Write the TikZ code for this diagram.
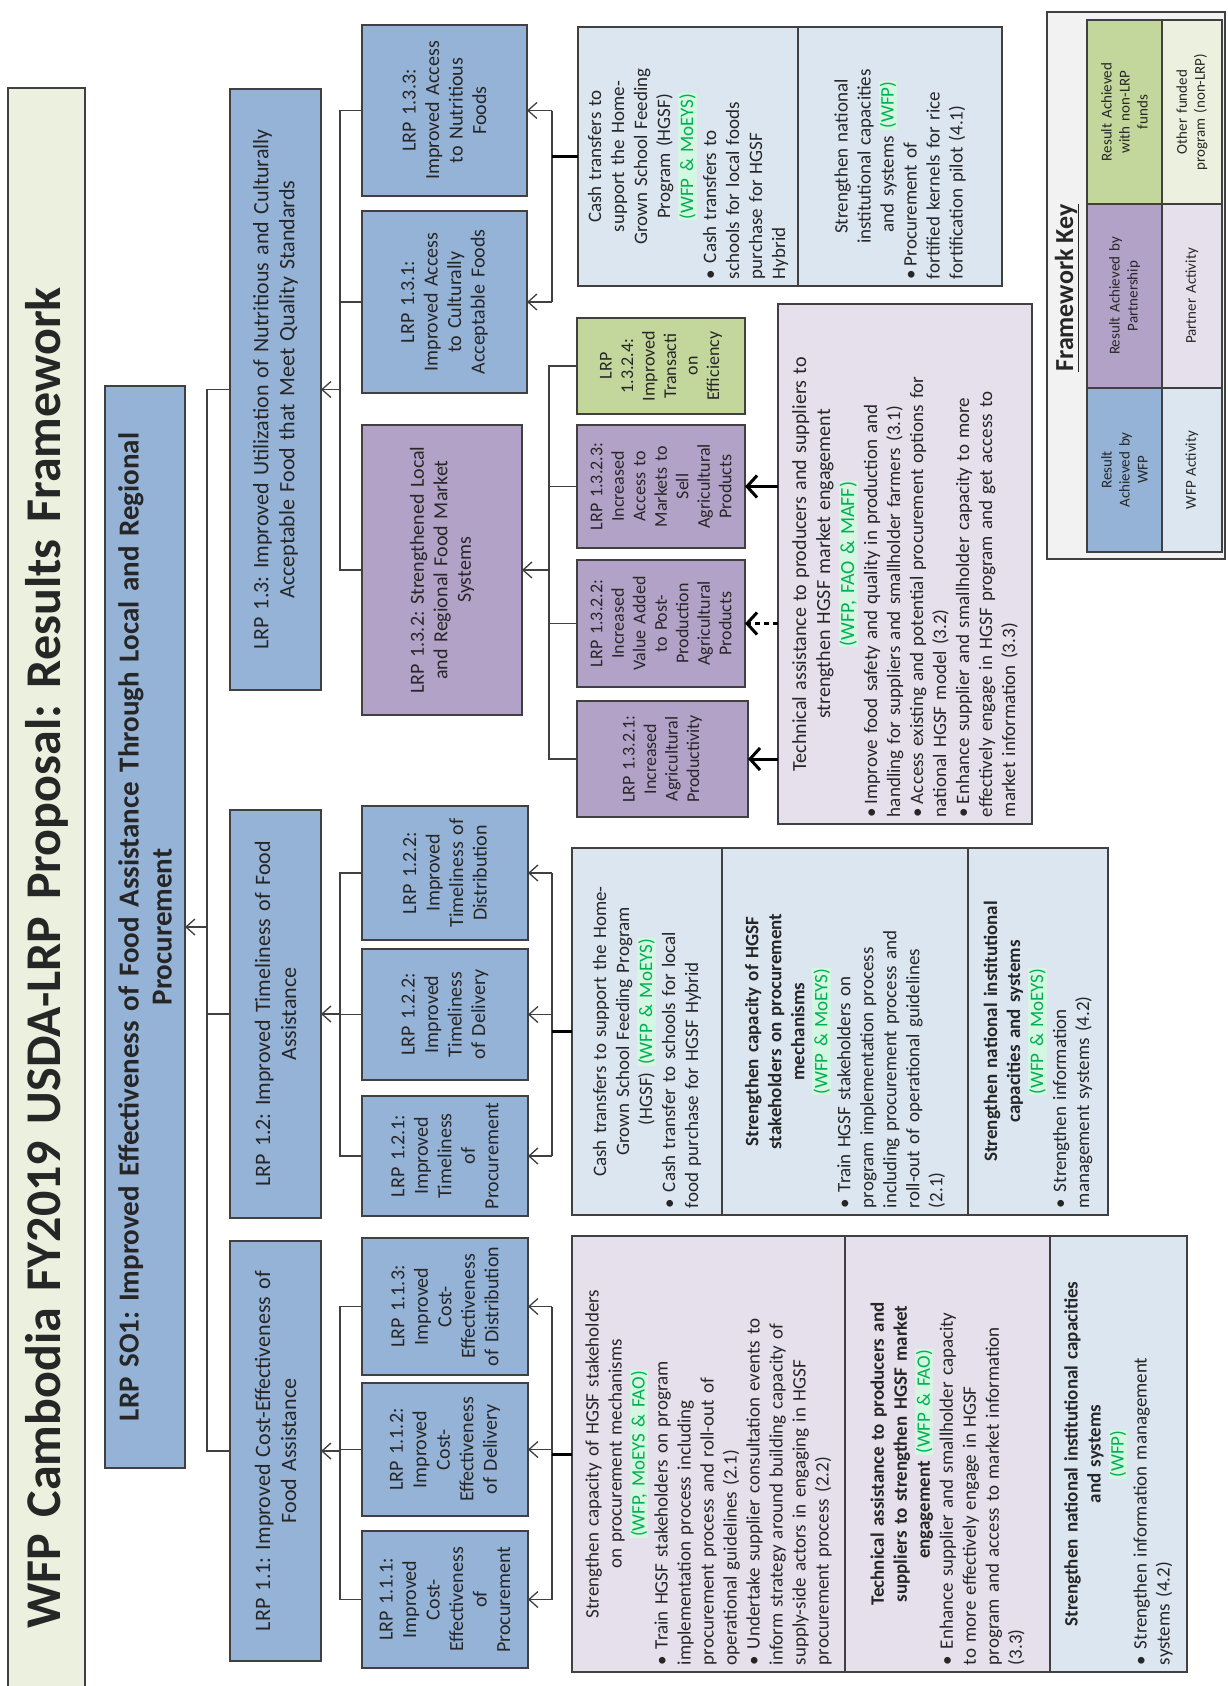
\documentclass[tikz,border=0pt]{standalone}
\usepackage{fontspec}
\setmainfont{Carlito}
\usetikzlibrary{arrows.meta}
\definecolor{resblue}{RGB}{149,179,215}
\definecolor{respurp}{RGB}{179,162,199}
\definecolor{resgreen}{RGB}{195,214,155}
\definecolor{actblue}{RGB}{220,230,241}
\definecolor{actpurp}{RGB}{229,224,236}
\definecolor{titlefill}{RGB}{235,241,222}
\definecolor{keyfill}{RGB}{242,242,242}
\definecolor{txtgreen}{RGB}{0,176,80}
\definecolor{hlgreen}{RGB}{214,246,228}
\definecolor{edgec}{RGB}{64,64,64}
\frenchspacing
\newcommand\grn[1]{{\setlength\fboxsep{1pt}\colorbox{hlgreen}{\color{txtgreen}#1}}}
\newcommand\bul[1]{\par\hangindent=16pt\hangafter=1\noindent\makebox[16pt][l]{\textbullet}#1\par}
\newcommand\sbul[1]{\par\hangindent=13pt\hangafter=1\noindent\makebox[13pt][l]{\textbullet}#1\par}
\newcommand\rbox[7]{%
  \pgfmathsetmacro\bw{#6-#5}\pgfmathsetmacro\bh{#4-#3}\pgfmathsetmacro\tw{\bw-14}%
  \node[#1, rotate=90, minimum width=\bw pt, minimum height=\bh pt, text width=\tw pt]
    (#2) at ({(#3+#4)/2},{(#5+#6)/2}) {#7};}
\tikzset{
  base/.style={draw=edgec, line width=1.4pt, inner xsep=7pt, inner ysep=3pt, outer sep=0pt, text=black!85},
  titlebox/.style={base, fill=titlefill, align=center, font=\fontsize{50}{58}\selectfont\bfseries},
  rb/.style={base, fill=resblue, align=center},
  rp/.style={base, fill=respurp, align=center},
  rg/.style={base, fill=resgreen, align=center},
  ab/.style={base, fill=actblue, align=left, font=\fontsize{19}{23}\selectfont},
  ap/.style={base, fill=actpurp, align=left, font=\fontsize{19}{23}\selectfont},
  fso/.style={font=\fontsize{29}{33}\selectfont\bfseries},
  ftwo/.style={font=\fontsize{22}{26}\selectfont},
  fthree/.style={font=\fontsize{20}{23.5}\selectfont},
  ffour/.style={font=\fontsize{18}{21.5}\selectfont},
  keybox/.style={base, fill=keyfill},
  kcell/.style={base, line width=1.2pt, align=center, font=\fontsize{15}{18}\selectfont},
  ln/.style={draw=edgec, line width=1.3pt},
  arr/.style={draw=edgec, line width=1.3pt, -{Straight Barb[length=9pt,width=16pt]}},
  thk/.style={draw=black, line width=3pt},
  tarr/.style={draw=black, line width=3pt, -{Straight Barb[length=10pt,width=22pt]}},
}
\begin{document}
\begin{tikzpicture}[x=1pt,y=-1pt]
\clip (0,0) rectangle (1228,1686);
\fill[white] (-5,-5) rectangle (1233,1691);

% title and goal
\rbox{titlebox}{title}{8}{85}{88}{1828}{WFP Cambodia FY2019 USDA-LRP Proposal: Results Framework}
\rbox{rb,fso}{so1}{105}{185}{386}{1468}{LRP SO1: Improved Effectiveness of Food Assistance Through Local and Regional\\ Procurement}

% level 2
\rbox{rb,ftwo}{n13}{230}{321}{89}{690}{LRP 1.3: Improved Utilization of Nutritious and Culturally\\ Acceptable Food that Meet Quality Standards}
\rbox{rb,ftwo}{n12}{230}{321}{810}{1218}{LRP 1.2: Improved Timeliness of Food\\ Assistance}
\rbox{rb,ftwo}{n11}{230}{321}{1241}{1661}{LRP 1.1: Improved Cost-Effectiveness of\\ Food Assistance}

% level 3
\rbox{rb,fthree}{n133}{362}{527}{25}{196}{LRP 1.3.3:\\ Improved Access\\ to Nutritious\\ Foods}
\rbox{rb,fthree}{n131}{362}{527}{211}{393}{LRP 1.3.1:\\ Improved Access\\ to Culturally\\ Acceptable Foods}
\rbox{rp,fthree}{n132}{362}{522}{425}{715}{LRP 1.3.2: Strengthened Local\\ and Regional Food Market\\ Systems}
\rbox{rb,fthree}{n122a}{362}{528}{806}{940}{LRP 1.2.2:\\ Improved\\ Timeliness of\\ Distribution}
\rbox{rb,fthree}{n122b}{362}{528}{949}{1080}{LRP 1.2.2:\\ Improved\\ Timeliness\\ of Delivery}
\rbox{rb,fthree}{n121}{362}{528}{1096}{1216}{LRP 1.2.1:\\ Improved\\ Timeliness of\\ Procurement}
\rbox{rb,fthree}{n113}{362}{528}{1238}{1375}{LRP 1.1.3:\\ Improved\\ Cost-\\ Effectiveness\\ of Distribution}
\rbox{rb,fthree}{n112}{362}{528}{1383}{1516}{LRP 1.1.2:\\ Improved\\ Cost-\\ Effectiveness\\ of Delivery}
\rbox{rb,fthree}{n111}{362}{528}{1531}{1668}{LRP 1.1.1:\\ Improved\\ Cost-\\ Effectiveness\\ of\\ Procurement}

% level 4
\rbox{rg,ffour}{n1324}{577}{745}{318}{414}{LRP\\ 1.3.2.4:\\ Improved\\ Transacti\\ on\\ Efficiency}
\rbox{rp,ffour}{n1323}{577}{745}{425}{548}{LRP 1.3.2.3:\\ Increased\\ Access to\\ Markets to\\ Sell\\ Agricultural\\ Products}
\rbox{rp,ffour}{n1322}{577}{745}{560}{687}{LRP 1.3.2.2:\\ Increased\\ Value Added\\ to Post-\\ Production\\ Agricultural\\ Products}
\rbox{rp,ffour}{n1321}{577}{748}{701}{817}{LRP 1.3.2.1:\\ Increased\\ Agricultural\\ Productivity}

% activities top
\rbox{ab}{cashA}{578}{798}{27}{286}{{\centering Cash transfers to\\ support the Home-\\ Grown School Feeding\\ Program (HGSF)\\ \grn{(WFP \& MoEYS)}\par}\bul{Cash transfers to\\ schools for local foods\\ purchase for HGSF\\ Hybrid}}
\rbox{ab}{cashB}{798}{1002}{27}{286}{{\centering Strengthen national\\ institutional capacities\\ and systems \grn{(WFP)}\par}\sbul{Procurement of\\ fortified kernels for rice\\ fortification pilot (4.1)}}
\rbox{ap}{tech}{778}{1032}{304}{824}{{\centering\fontsize{20}{24}\selectfont Technical assistance to producers and suppliers to\\ strengthen HGSF market engagement\\ \grn{(WFP, FAO \& MAFF)}\par}\sbul{Improve food safety and quality in production and\\ handling for suppliers and smallholder farmers (3.1)}\sbul{Access existing and potential procurement options for\\ national HGSF model (3.2)}\sbul{Enhance supplier and smallholder capacity to more\\ effectively engage in HGSF program and get access to\\ market information (3.3)}}

% activities middle
\rbox{ab}{midA}{572}{722}{848}{1215}{{\centering Cash transfers to support the Home-\\ Grown School Feeding Program\\ (HGSF) \grn{(WFP \& MoEYS)}\par}\bul{Cash transfer to schools for local\\ food purchase for HGSF Hybrid}}
\rbox{ab}{midB}{722}{968}{848}{1215}{{\centering\bfseries Strengthen capacity of HGSF\\ stakeholders on procurement\\ mechanisms\\ \mdseries\grn{(WFP \& MoEYS)}\par}\bul{Train HGSF stakeholders on\\ program implementation process\\ including procurement process and\\ roll-out of operational guidelines\\ (2.1)}}
\rbox{ab}{midC}{968}{1108}{848}{1215}{{\centering\bfseries Strengthen national institutional\\ capacities and systems\\ \mdseries\grn{(WFP \& MoEYS)}\par}\bul{Strengthen information\\ management systems (4.2)}}

% activities bottom
\rbox{ap}{botA}{572}{845}{1236}{1672}{{\centering Strengthen capacity of HGSF stakeholders\\ on procurement mechanisms\\ \grn{(WFP, MoEYS \& FAO)}\par}\bul{Train HGSF stakeholders on program\\ implementation process including\\ procurement process and roll-out of\\ operational guidelines (2.1)}\bul{Undertake supplier consultation events to\\ inform strategy around building capacity of\\ supply-side actors in engaging in HGSF\\ procurement process (2.2)}}
\rbox{ap}{botB}{845}{1050}{1236}{1672}{{\centering\bfseries Technical assistance to producers and\\ suppliers to strengthen HGSF market\\ engagement \mdseries\grn{(WFP \& FAO)}\par}\bul{Enhance supplier and smallholder capacity\\ to more effectively engage in HGSF\\ program and access to market information\\ (3.3)}}
\rbox{ab}{botC}{1050}{1187}{1236}{1672}{{\centering\bfseries Strengthen national institutional capacities\\ and systems\\ \mdseries\grn{(WFP)}\par}\bul{Strengthen information management\\ systems (4.2)}}

% framework key
\rbox{keybox}{key}{1047}{1225}{12}{559}{}
\node[rotate=90, font=\fontsize{26}{30}\selectfont\bfseries, text=black!85] (keyt) at (1067,288) {\underline{Framework Key}};
\rbox{kcell,fill=resblue}{kc1}{1087}{1162}{388}{552}{Result\\ Achieved by\\ WFP}
\rbox{kcell,fill=respurp}{kc2}{1087}{1162}{204}{388}{Result Achieved by\\ Partnership}
\rbox{kcell,fill=resgreen}{kc3}{1087}{1162}{20}{204}{Result Achieved\\ with non-LRP\\ funds}
\rbox{kcell,fill=actblue}{kc4}{1162}{1222}{388}{552}{WFP Activity}
\rbox{kcell,fill=actpurp}{kc5}{1162}{1222}{204}{388}{Partner Activity}
\rbox{kcell,fill=titlefill}{kc6}{1162}{1222}{20}{204}{Other funded\\ program (non-LRP)}

% level 2 -> SO1
\coordinate (b0) at (207,927);
\draw[ln] (n13.north) -- (n13.north -| b0) -- (n11.north -| b0) -- (n11.north);
\draw[ln] (n12.north) -- (n12.north -| b0);
\draw[arr] (b0) -- (so1.south);

% level 3 -> level 2
\coordinate (b13) at (340,390);
\draw[ln] (n133.north) -- (n133.north -| b13) -- (n132.north -| b13) -- (n132.north);
\draw[ln] (n131.north) -- (n131.north -| b13);
\draw[arr] (b13 |- n13.south) -- (n13.south);
\draw[ln] (n122a.north) -- (n122a.north -| b13) -- (n121.north -| b13) -- (n121.north);
\draw[ln] (n122b.north) -- (n122b.north -| b13);
\draw[arr] (b13 |- n12.south) -- (n12.south);
\draw[ln] (n113.north) -- (n113.north -| b13) -- (n111.north -| b13) -- (n111.north);
\draw[ln] (n112.north) -- (n112.north -| b13);
\draw[arr] (b13 |- n11.south) -- (n11.south);

% level 4 -> LRP 1.3.2
\coordinate (b132) at (549,570);
\draw[ln] (n1324.north) -- (n1324.north -| b132) -- (n1321.north -| b132) -- (n1321.north);
\draw[ln] (n1323.north) -- (n1323.north -| b132);
\draw[ln] (n1322.north) -- (n1322.north -| b132);
\draw[arr] (b132 |- n132.south) -- (n132.south);

% activities -> results
\coordinate (c1) at (552,0);
\draw[ln] (c1 |- n133.center) -- (c1 |- n131.center);
\draw[arr] (c1 |- n133.center) -- (n133.south);
\draw[arr] (c1 |- n131.center) -- (n131.south);
\draw[thk] (cashA.north) -- (cashA.north -| c1);

\draw[ln] (c1 |- n122a.center) -- (c1 |- n121.center);
\draw[arr] (c1 |- n122a.center) -- (n122a.south);
\draw[arr] (c1 |- n122b.center) -- (n122b.south);
\draw[arr] (c1 |- n121.center) -- (n121.south);
\draw[thk] (midA.north) -- (midA.north -| c1);

\draw[ln] (c1 |- n113.center) -- (c1 |- n111.center);
\draw[arr] (c1 |- n113.center) -- (n113.south);
\draw[arr] (c1 |- n112.center) -- (n112.south);
\draw[arr] (c1 |- n111.center) -- (n111.south);
\draw[thk] (botA.north) -- (botA.north -| c1);

\draw[tarr] (tech.north |- n1323.center) -- (n1323.south);
\draw[tarr, dash pattern=on 5pt off 4pt] (tech.north |- n1322.center) -- (n1322.south);
\draw[tarr] (tech.north |- n1321.center) -- (n1321.south);
\end{tikzpicture}
\end{document}
